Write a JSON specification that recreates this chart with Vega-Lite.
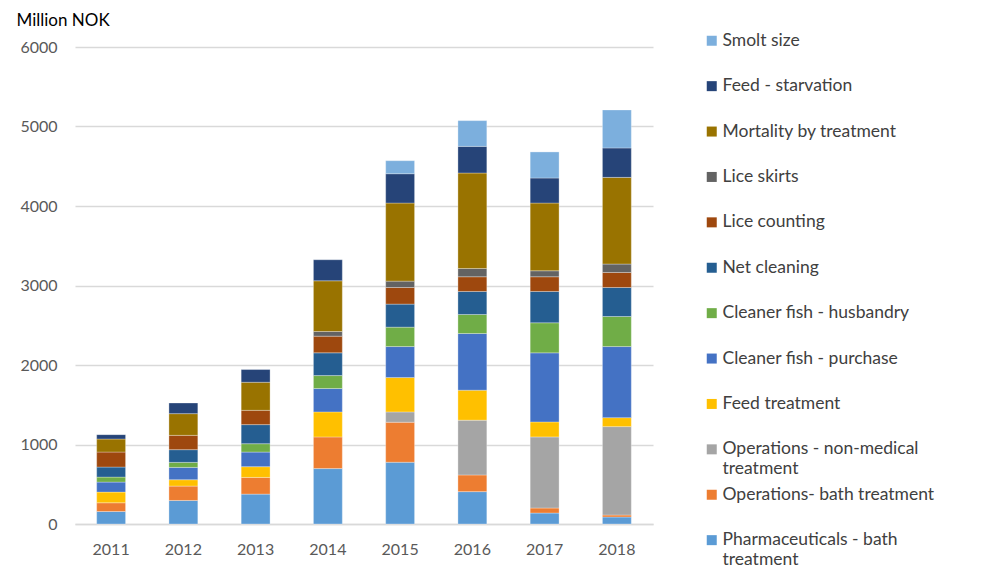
{
  "$schema": "https://vega.github.io/schema/vega-lite/v6.json",
  "width": 578,
  "height": 477,
  "autosize": "none",
  "padding": {"left": 75, "top": 47, "right": 347, "bottom": 47},
  "background": "white",
  "config": {"view": {"stroke": null}, "font": "Lato"},
  "data": {"values": [
    {"year": "2011", "cat": "Pharmaceuticals - bath treatment", "value": 157},
    {"year": "2011", "cat": "Operations- bath treatment", "value": 110},
    {"year": "2011", "cat": "Feed treatment", "value": 134},
    {"year": "2011", "cat": "Cleaner fish - purchase", "value": 126},
    {"year": "2011", "cat": "Cleaner fish - husbandry", "value": 63},
    {"year": "2011", "cat": "Net cleaning", "value": 126},
    {"year": "2011", "cat": "Lice counting", "value": 189},
    {"year": "2011", "cat": "Mortality by treatment", "value": 164},
    {"year": "2011", "cat": "Feed - starvation", "value": 55},
    {"year": "2012", "cat": "Pharmaceuticals - bath treatment", "value": 296},
    {"year": "2012", "cat": "Operations- bath treatment", "value": 181},
    {"year": "2012", "cat": "Feed treatment", "value": 80},
    {"year": "2012", "cat": "Cleaner fish - purchase", "value": 155},
    {"year": "2012", "cat": "Cleaner fish - husbandry", "value": 63},
    {"year": "2012", "cat": "Net cleaning", "value": 160},
    {"year": "2012", "cat": "Lice counting", "value": 180},
    {"year": "2012", "cat": "Mortality by treatment", "value": 273},
    {"year": "2012", "cat": "Feed - starvation", "value": 134},
    {"year": "2013", "cat": "Pharmaceuticals - bath treatment", "value": 376},
    {"year": "2013", "cat": "Operations- bath treatment", "value": 210},
    {"year": "2013", "cat": "Feed treatment", "value": 135},
    {"year": "2013", "cat": "Cleaner fish - purchase", "value": 184},
    {"year": "2013", "cat": "Cleaner fish - husbandry", "value": 105},
    {"year": "2013", "cat": "Net cleaning", "value": 240},
    {"year": "2013", "cat": "Lice counting", "value": 180},
    {"year": "2013", "cat": "Mortality by treatment", "value": 353},
    {"year": "2013", "cat": "Feed - starvation", "value": 160},
    {"year": "2014", "cat": "Pharmaceuticals - bath treatment", "value": 697},
    {"year": "2014", "cat": "Operations- bath treatment", "value": 398},
    {"year": "2014", "cat": "Feed treatment", "value": 315},
    {"year": "2014", "cat": "Cleaner fish - purchase", "value": 294},
    {"year": "2014", "cat": "Cleaner fish - husbandry", "value": 163},
    {"year": "2014", "cat": "Net cleaning", "value": 286},
    {"year": "2014", "cat": "Lice counting", "value": 210},
    {"year": "2014", "cat": "Lice skirts", "value": 58},
    {"year": "2014", "cat": "Mortality by treatment", "value": 638},
    {"year": "2014", "cat": "Feed - starvation", "value": 265},
    {"year": "2015", "cat": "Pharmaceuticals - bath treatment", "value": 777},
    {"year": "2015", "cat": "Operations- bath treatment", "value": 503},
    {"year": "2015", "cat": "Operations - non-medical treatment", "value": 130},
    {"year": "2015", "cat": "Feed treatment", "value": 432},
    {"year": "2015", "cat": "Cleaner fish - purchase", "value": 390},
    {"year": "2015", "cat": "Cleaner fish - husbandry", "value": 244},
    {"year": "2015", "cat": "Net cleaning", "value": 290},
    {"year": "2015", "cat": "Lice counting", "value": 209},
    {"year": "2015", "cat": "Lice skirts", "value": 80},
    {"year": "2015", "cat": "Mortality by treatment", "value": 982},
    {"year": "2015", "cat": "Feed - starvation", "value": 369},
    {"year": "2015", "cat": "Smolt size", "value": 164},
    {"year": "2016", "cat": "Pharmaceuticals - bath treatment", "value": 407},
    {"year": "2016", "cat": "Operations- bath treatment", "value": 210},
    {"year": "2016", "cat": "Operations - non-medical treatment", "value": 689},
    {"year": "2016", "cat": "Feed treatment", "value": 377},
    {"year": "2016", "cat": "Cleaner fish - purchase", "value": 713},
    {"year": "2016", "cat": "Cleaner fish - husbandry", "value": 239},
    {"year": "2016", "cat": "Net cleaning", "value": 290},
    {"year": "2016", "cat": "Lice counting", "value": 185},
    {"year": "2016", "cat": "Lice skirts", "value": 104},
    {"year": "2016", "cat": "Mortality by treatment", "value": 1201},
    {"year": "2016", "cat": "Feed - starvation", "value": 335},
    {"year": "2016", "cat": "Smolt size", "value": 324},
    {"year": "2017", "cat": "Pharmaceuticals - bath treatment", "value": 138},
    {"year": "2017", "cat": "Operations- bath treatment", "value": 63},
    {"year": "2017", "cat": "Operations - non-medical treatment", "value": 894},
    {"year": "2017", "cat": "Feed treatment", "value": 189},
    {"year": "2017", "cat": "Cleaner fish - purchase", "value": 869},
    {"year": "2017", "cat": "Cleaner fish - husbandry", "value": 378},
    {"year": "2017", "cat": "Net cleaning", "value": 394},
    {"year": "2017", "cat": "Lice counting", "value": 185},
    {"year": "2017", "cat": "Lice skirts", "value": 75},
    {"year": "2017", "cat": "Mortality by treatment", "value": 852},
    {"year": "2017", "cat": "Feed - starvation", "value": 315},
    {"year": "2017", "cat": "Smolt size", "value": 328},
    {"year": "2018", "cat": "Pharmaceuticals - bath treatment", "value": 88},
    {"year": "2018", "cat": "Operations- bath treatment", "value": 25},
    {"year": "2018", "cat": "Operations - non-medical treatment", "value": 1112},
    {"year": "2018", "cat": "Feed treatment", "value": 113},
    {"year": "2018", "cat": "Cleaner fish - purchase", "value": 894},
    {"year": "2018", "cat": "Cleaner fish - husbandry", "value": 378},
    {"year": "2018", "cat": "Net cleaning", "value": 365},
    {"year": "2018", "cat": "Lice counting", "value": 189},
    {"year": "2018", "cat": "Lice skirts", "value": 106},
    {"year": "2018", "cat": "Mortality by treatment", "value": 1090},
    {"year": "2018", "cat": "Feed - starvation", "value": 370},
    {"year": "2018", "cat": "Smolt size", "value": 478}
  ]},
  "transform": [
    {"calculate": "indexof(['Smolt size','Feed - starvation','Mortality by treatment','Lice skirts','Lice counting','Net cleaning','Cleaner fish - husbandry','Cleaner fish - purchase','Feed treatment','Operations - non-medical treatment','Operations- bath treatment','Pharmaceuticals - bath treatment'], datum.cat)", "as": "ord"}
  ],
  "mark": {"type": "bar", "stroke": "white", "strokeWidth": 0.5, "strokeOpacity": 0.6},
  "encoding": {
    "x": {
      "field": "year", "type": "ordinal",
      "scale": {"paddingInner": 0.6, "paddingOuter": 0.3},
      "axis": {"title": null, "labelAngle": 0, "ticks": false, "domain": true, "domainColor": "#d9d9d9", "domainWidth": 1.5, "labelPadding": 17, "labelFontSize": 16, "labelColor": "#595959", "labelFont": "Lato"}
    },
    "y": {
      "field": "value", "type": "quantitative", "aggregate": "sum",
      "scale": {"domain": [0, 6000], "nice": false},
      "axis": {
        "values": [0, 1000, 2000, 3000, 4000, 5000, 6000],
        "title": "Million NOK", "titleAngle": 0, "titleAlign": "left", "titleBaseline": "middle",
        "titleX": -59, "titleY": -27, "titleFontSize": 17, "titleFontWeight": "normal", "titleColor": "#000000", "titleFont": "Lato",
        "domain": false, "ticks": false, "labelPadding": 18, "labelFontSize": 16, "labelColor": "#595959", "labelFont": "Lato",
        "gridColor": "#d9d9d9", "gridWidth": 1.5, "format": "d"
      }
    },
    "color": {
      "field": "cat", "type": "nominal",
      "scale": {
        "domain": ["Smolt size","Feed - starvation","Mortality by treatment","Lice skirts","Lice counting","Net cleaning","Cleaner fish - husbandry","Cleaner fish - purchase","Feed treatment","Operations - non-medical treatment","Operations- bath treatment","Pharmaceuticals - bath treatment"],
        "range": ["#7CAFDD","#264478","#997300","#636363","#9E480E","#255E91","#70AD47","#4472C4","#FFC000","#A5A5A5","#ED7D31","#5B9BD5"]
      },
      "legend": {
        "title": null, "orient": "none", "legendX": 628, "legendY": -15,
        "symbolType": "square", "symbolSize": 100, "symbolStrokeWidth": 0,
        "labelFontSize": 17.5, "labelColor": "#404040", "labelFont": "Lato", "labelOffset": 2,
        "labelLimit": 300, "rowPadding": 7.4, "gridAlign": "all",
        "labelExpr": "datum.label == 'Operations - non-medical treatment' ? ['Operations - non-medical', 'treatment'] : datum.label == 'Pharmaceuticals - bath treatment' ? ['Pharmaceuticals - bath', 'treatment'] : datum.label"
      }
    },
    "order": {"field": "ord", "sort": "descending"}
  }
}
